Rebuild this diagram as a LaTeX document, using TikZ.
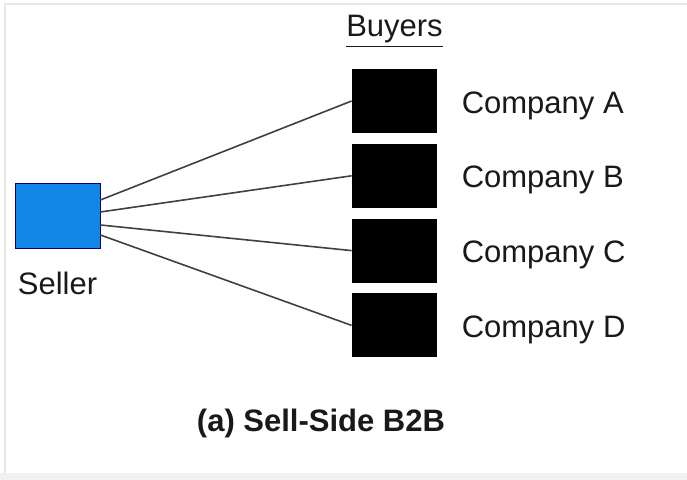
\documentclass[tikz,border=0pt]{standalone}
\usepackage{fontspec}
\setmainfont{Liberation Sans}
\usepackage{tikz}
\usetikzlibrary{positioning}
\definecolor{sellerblue}{RGB}{18,134,228}
\definecolor{framegray}{RGB}{232,232,232}

\begin{document}
\begin{tikzpicture}[
  x=0.5pt, y=-0.5pt,
  every node/.style={font=\fontsize{15.5}{18}\selectfont, text=black!90, inner sep=0pt},
  sellerbox/.style={rectangle, draw=blue!45!black, line width=0.4pt, fill=sellerblue,
                    minimum width=42.5pt, minimum height=32.5pt},
  buyerbox/.style={rectangle, fill=black, minimum width=42.5pt, minimum height=32pt},
  link/.style={draw=black!75, line width=0.8pt},
  node distance=5pt
]
  \useasboundingbox (0,0) rectangle (687,480);
  % faint screenshot frame
  \draw[framegray, line width=1pt] (5,480) -- (5,4) -- (687,4);
  \fill[framegray!60] (0,473) rectangle (687,480);

  \node[sellerbox] (seller) at (57.5,215.5) {};
  \node[below=11.5pt of seller] (sellerlbl) {Seller};

  \node[buyerbox] (compA) at (394.5,101) {};
  \node[buyerbox, below=of compA] (compB) {};
  \node[buyerbox, below=of compB] (compC) {};
  \node[buyerbox, below=of compC] (compD) {};
  \node[above=10.5pt of compA] (buyers) {\underline{Buyers}};

  \node[right=12pt of compA, yshift=-2.25pt] (lblA) {Company A};
  \node[right=12pt of compB, yshift=-2.25pt] (lblB) {Company B};
  \node[right=12pt of compC, yshift=-2.25pt] (lblC) {Company C};
  \node[right=12pt of compD, yshift=-2.25pt] (lblD) {Company D};

  \draw[link] ([yshift=7.75pt]seller.east) -- (compA.west);
  \draw[link] ([yshift=1.75pt]seller.east) -- (compB.west);
  \draw[link] ([yshift=-4.75pt]seller.east) -- (compC.west);
  \draw[link] ([yshift=-9.75pt]seller.east) -- (compD.west);

  \node[font=\fontsize{15.5}{18}\selectfont\bfseries] (caption) at (321,423) {(a) Sell-Side B2B};
\end{tikzpicture}
\end{document}
